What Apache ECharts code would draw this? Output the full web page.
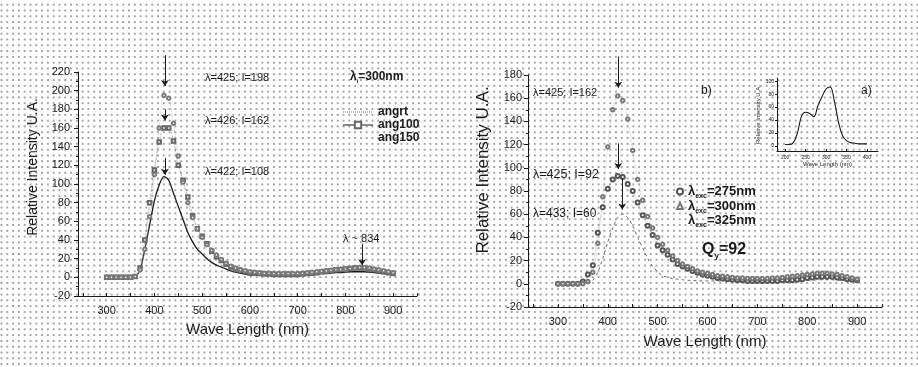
<!DOCTYPE html>
<html>
<head>
<meta charset="utf-8">
<script src="https://cdn.jsdelivr.net/npm/echarts@6.0.0/dist/echarts.min.js"></script>
<style>
  html, body { margin: 0; padding: 0; }
  body {
    background-color: #fff;
    background-image: radial-gradient(circle, #9a9a9a 0.65px, transparent 1.05px);
    background-size: 5.8px 5.8px;
    background-position: 4.4px 1.8px;
  }
  #chart { width: 918px; height: 367px; }
</style>
</head>
<body>
<div id="chart"></div>
<script>
// wavelengths (nm) sampled for every emission curve
const wave = [300, 310, 320, 330, 340, 350, 360, 370, 380, 390,
  400, 410, 420, 430, 440, 450, 460, 470, 480, 490,
  500, 510, 520, 530, 540, 550, 560, 570, 580, 590,
  600, 610, 620, 630, 640, 650, 660, 670, 680, 690,
  700, 710, 720, 730, 740, 750, 760, 770, 780, 790,
  800, 810, 820, 830, 840, 850, 860, 870, 880, 890, 900];

// panel 1 : λi = 300nm
const angrt = [0, 0, 0, 0, 0, 0, 1, 8, 30, 56,
  82, 99, 108, 104, 90, 76, 62, 48, 38, 30,
  25, 20, 16, 13, 11, 9, 7, 5.5, 4.5, 3.5,
  2.5, 2, 2, 2, 2, 2, 2, 2, 2, 2,
  2.5, 2.5, 3, 3, 3.5, 4, 4, 4.5, 5, 5,
  5.5, 6, 6, 6, 6, 5.5, 5, 4.5, 4, 3.5, 3];
const ang100 = [0, 0, 0, 0, 0, 0, 1, 10, 40, 80,
  115, 145, 160, 160, 146, 120, 104, 86, 66, 52,
  44, 36, 28, 22, 18, 14, 11, 9, 7.5, 6,
  5, 4.5, 4, 3.5, 3.5, 3, 3, 3, 3, 3,
  3, 3.5, 4, 4.5, 5, 6, 6.5, 7, 8, 8.5,
  9, 9.5, 10, 10, 10, 9, 8, 7, 6, 5, 4];
const ang150 = [0, 0, 0, 0, 0, 0, 1, 8, 30, 65,
  110, 160, 195, 192, 165, 130, 102, 80, 64, 52,
  43, 35, 29, 24, 19, 15, 12, 10, 8, 7,
  6, 5.5, 5, 4.5, 4.5, 4, 4, 4, 4, 4,
  4, 4.5, 5, 5.5, 6, 6.5, 7, 7.5, 8, 8.5,
  9, 9.5, 10, 10.5, 10.5, 10, 9, 8, 7, 6, 5];

// panel 2 : sample, three excitation wavelengths
const exc275 = [0, 0, 0, 0, 0, 2, 8, 16, 44, 66,
  82, 90, 93, 92, 86, 80, 70, 59, 50, 42,
  33, 29, 25, 21, 17, 15, 13, 11, 9.5, 8,
  7, 6, 5, 4.5, 4, 3.5, 3, 3, 2.5, 2.5,
  2.5, 2.5, 2.5, 2.5, 2.5, 3, 3, 3, 3.5, 4,
  5, 5.5, 6, 6, 6, 6, 5.5, 5, 4, 3.5, 3];
const exc300 = [0, 0, 0, 0, 0, 0, 2, 10, 35, 75,
  118, 150, 162, 158, 142, 115, 90, 72, 58, 48,
  40, 34, 29, 24, 20, 17, 15, 13, 11, 10,
  9, 8, 7, 6.5, 6, 5.5, 5, 5, 4.5, 4.5,
  4.5, 4.5, 4.5, 5, 5, 5.5, 6, 6.5, 7, 7.5,
  8, 8.5, 9, 9, 9, 8.5, 8, 7, 6, 5, 4];
const exc325 = [0, 0, 0, 0, 0, 0, 0, 3, 10, 22,
  36, 48, 57, 60, 57, 50, 40, 31, 22, 15,
  10.5, 7, 5.5, 4.5, 4, 3.5, 3, 3, 2.5, 2.5,
  2.5, 2.5, 2.5, 2.5, 2.5, 2.5, 2.5, 2.5, 2.5, 2.5,
  2.5, 2.5, 2.5, 2.5, 2.5, 2.5, 2.5, 2.5, 3, 3,
  3, 3, 3.5, 3.5, 3.5, 3.5, 3, 3, 3, 2.5, 2.5];

// inset a) : excitation spectrum
const insetWave = [200, 210, 220, 230, 240, 250, 260, 270, 280, 290, 300,
  310, 320, 330, 340, 350, 360, 370, 380, 390, 400];
const insetVal = [2, 2, 5, 20, 46, 52, 50, 45, 62, 76, 88,
  91, 70, 38, 16, 8, 5, 4, 3, 3, 3];

// tick labels
const mainTicks = [300, 400, 500, 600, 700, 800, 900];
const mainMinor = [250, 300, 350, 400, 450, 500, 550, 600, 650, 700, 750, 800, 850, 900, 950];
const insetXTicks = [200, 250, 300, 350, 400];
const insetYTicks = [0, 20, 40, 60, 80, 100];

// arrows: [x, from, to] in data units
const arrowsLeft = [[422, 238, 205], [422, 180, 168], [422, 128, 110], [835, 36, 13]];
const arrowsRight = [[421, 196, 169], [421, 121, 99], [429, 91, 64]];

const pairs = (xs, ys) => xs.map((x, i) => [x, ys[i]]);
const arrows = (list) => list.map((a) => [{ coord: [a[0], a[1]] }, { coord: [a[0], a[2]] }]);

const FONT = 'Liberation Sans, Arial, sans-serif';
const INK = '#1a1a1a';

const mainX = (grid, nameGap) => ({
  type: 'value', gridIndex: grid, min: 240, max: 950,
  name: 'Wave Length (nm)', nameLocation: 'middle', nameGap: nameGap,
  nameTextStyle: { fontFamily: FONT, fontSize: 15, color: INK },
  axisLine: { onZero: false, lineStyle: { color: INK, width: 1 } },
  axisTick: { inside: true, length: 3, customValues: mainMinor, lineStyle: { color: INK } },
  axisLabel: { customValues: mainTicks, margin: 9, fontFamily: FONT, fontSize: 11, color: INK },
  splitLine: { show: false },
});

const mainY = (grid, max, fontSize, gap, shift, labelMargin) => ({
  type: 'value', gridIndex: grid, min: -20, max: max, interval: 20,
  name: 'Relative Intensity U.A.', nameLocation: 'middle', nameGap: gap,
  nameTextStyle: { fontFamily: FONT, fontSize: fontSize, color: INK, padding: [0, 0, 0, shift] },
  axisLine: { show: true, lineStyle: { color: INK, width: 1 } },
  axisTick: { length: 4, lineStyle: { color: INK } },
  minorTick: { show: true, splitNumber: 2, length: 2, lineStyle: { color: INK } },
  axisLabel: { margin: labelMargin, fontFamily: FONT, fontSize: 11, color: INK },
  splitLine: { show: false },
});

// invisible axes on an overlay grid, same scale, taller range (for arrows above the frame)
const hidden = (grid, min, max) => ({
  type: 'value', gridIndex: grid, min: min, max: max, show: false,
  splitLine: { show: false },
});

const chart = echarts.init(document.getElementById('chart'));

const text = (left, top, str, size, weight, rich) => ({
  type: 'text', left: left, top: top, silent: true,
  style: { text: str, fontFamily: FONT, fontSize: size, fontWeight: weight || 'normal', fill: INK, rich: rich },
});

const subRich = (size) => ({
  b: { fontFamily: FONT, fontSize: size, fontWeight: 'bold', fill: INK, color: INK },
  s: { fontFamily: FONT, fontSize: Math.round(size * 0.5), fontWeight: 'bold', fill: INK, color: INK, padding: [size * 0.7, 0, 0, 0] },
});

const arrowLine = (list) => ({
  silent: true, symbol: ['none', 'arrow'], symbolSize: 6,
  label: { show: false }, lineStyle: { color: INK, width: 1, type: 'solid' },
  data: arrows(list),
});

const option = {
  animation: false,
  grid: [
    { left: 78, top: 72, width: 339, height: 224 },
    { left: 528, top: 75, width: 354, height: 232 },
    { left: 777, top: 78, width: 101, height: 73 },
    { left: 78, top: 34.67, width: 339, height: 261.33 },
    { left: 528, top: 28.6, width: 354, height: 278.4 },
  ],
  xAxis: [
    mainX(0, 26),
    mainX(1, 27),
    {
      type: 'value', gridIndex: 2, min: 180, max: 427,
      name: 'Wave Length (nm)', nameLocation: 'middle', nameGap: 10,
      nameTextStyle: { fontFamily: FONT, fontSize: 6, color: INK },
      axisLine: { onZero: false, lineStyle: { color: INK } },
      axisTick: { inside: true, length: 2, customValues: insetXTicks, lineStyle: { color: INK } },
      axisLabel: { customValues: insetXTicks, margin: 4, fontFamily: FONT, fontSize: 5, color: INK },
      splitLine: { show: false },
    },
    hidden(3, 240, 950),
    hidden(4, 240, 950),
  ],
  yAxis: [
    mainY(0, 220, 14, 38, 34, 8),
    mainY(1, 180, 17, 36, 42, 6),
    {
      type: 'value', gridIndex: 2, min: -8, max: 105,
      name: 'Relative Intensity U.A.', nameLocation: 'middle', nameGap: 10,
      nameTextStyle: { fontFamily: FONT, fontSize: 6, color: INK },
      axisLine: { show: true, lineStyle: { color: INK } },
      axisTick: { length: 2, customValues: insetYTicks, lineStyle: { color: INK } },
      axisLabel: { customValues: insetYTicks, margin: 3, fontFamily: FONT, fontSize: 5, color: INK },
      splitLine: { show: false },
    },
    hidden(3, -20, 260),
    hidden(4, -20, 220),
  ],
  legend: [
    {
      orient: 'vertical', left: 337, top: 101, itemWidth: 30, itemHeight: 8, itemGap: 1,
      textStyle: { fontFamily: FONT, fontSize: 12, fontWeight: 'bold', color: INK },
      data: [
        { name: 'angrt', itemStyle: { opacity: 0 }, lineStyle: { type: 'dotted', color: '#777', width: 1 } },
        { name: 'ang100', lineStyle: { type: 'solid', color: INK, width: 1 } },
        { name: 'ang150', itemStyle: { opacity: 0 }, lineStyle: { opacity: 0 } },
      ],
    },
    {
      orient: 'vertical', left: 671, top: 180, itemWidth: 6, itemHeight: 6, itemGap: 0,
      formatter: (n) => '{b|λ}{s|exc}{b|=' + n + 'nm}',
      textStyle: { fontFamily: FONT, fontSize: 13, fontWeight: 'bold', color: INK, rich: subRich(13) },
      data: [
        { name: '275', icon: 'emptyCircle' },
        { name: '300', icon: 'emptyTriangle' },
        { name: '325', icon: 'none', lineStyle: { opacity: 0 } },
      ],
    },
  ],
  graphic: [
    text(205, 72, 'λ=425; I=198', 11),
    text(205, 115, 'λ=426; I=162', 11),
    text(205, 166, 'λ=422; I=108', 11),
    text(350, 71, '{b|λ}{s|i}{b|=300nm}', 12, 'bold', subRich(12)),
    text(343, 233, 'λ ~ 834', 11),
    text(533, 87, 'λ=425; I=162', 11),
    text(533, 168, 'λ=425; I=92', 12.5),
    text(533, 208, 'λ=433; I=60', 12),
    text(701, 85, 'b)', 12),
    text(861, 85, 'a)', 12),
    text(702, 242, '{b|Q}{s|y}{b|=92}', 16, 'bold', subRich(16)),
  ],
  series: [
    {
      name: 'angrt', type: 'line', xAxisIndex: 0, yAxisIndex: 0,
      data: pairs(wave, angrt), smooth: 0.3, symbol: 'emptyCircle', showSymbol: false,
      itemStyle: { color: INK },
      lineStyle: { color: INK, width: 1.3 },
    },
    {
      name: 'ang100', type: 'line', xAxisIndex: 0, yAxisIndex: 0,
      data: pairs(wave, ang100), smooth: 0.3, symbol: 'emptyRect', symbolSize: 3.5,
      itemStyle: { color: '#666', borderWidth: 0.7 },
      lineStyle: { color: '#888', width: 0.6, type: 'dashed' },
    },
    {
      name: 'ang150', type: 'line', xAxisIndex: 0, yAxisIndex: 0,
      data: pairs(wave, ang150), smooth: 0.3, symbol: 'emptyCircle', symbolSize: 3.5,
      itemStyle: { color: '#7a7a7a', borderWidth: 0.7 },
      lineStyle: { color: '#aaa', width: 0.6, type: 'dotted' },
    },
    {
      name: '275', type: 'line', xAxisIndex: 1, yAxisIndex: 1,
      data: pairs(wave, exc275), smooth: 0.3, symbol: 'emptyCircle', symbolSize: 4,
      itemStyle: { color: '#555', borderWidth: 0.7 },
      lineStyle: { color: '#999', width: 0.6, type: 'dotted' },
    },
    {
      name: '300', type: 'line', xAxisIndex: 1, yAxisIndex: 1,
      data: pairs(wave, exc300), smooth: 0.3, symbol: 'emptyCircle', symbolSize: 3.5,
      itemStyle: { color: '#777', borderWidth: 0.7 },
      lineStyle: { color: '#aaa', width: 0.6, type: 'dotted' },
    },
    {
      name: '325', type: 'line', xAxisIndex: 1, yAxisIndex: 1,
      data: pairs(wave, exc325), smooth: 0.3, symbol: 'none',
      itemStyle: { color: '#444' },
      lineStyle: { color: '#444', width: 0.8, type: [3, 3] },
    },
    {
      name: 'inset', type: 'line', xAxisIndex: 2, yAxisIndex: 2,
      data: pairs(insetWave, insetVal), smooth: 0.4, symbol: 'none',
      lineStyle: { color: INK, width: 1.1 },
    },
    {
      name: 'arrowsL', type: 'line', xAxisIndex: 3, yAxisIndex: 3, data: [],
      markLine: arrowLine(arrowsLeft),
    },
    {
      name: 'arrowsR', type: 'line', xAxisIndex: 4, yAxisIndex: 4, data: [],
      markLine: arrowLine(arrowsRight),
    },
  ],
};

chart.setOption(option);
</script>
</body>
</html>
